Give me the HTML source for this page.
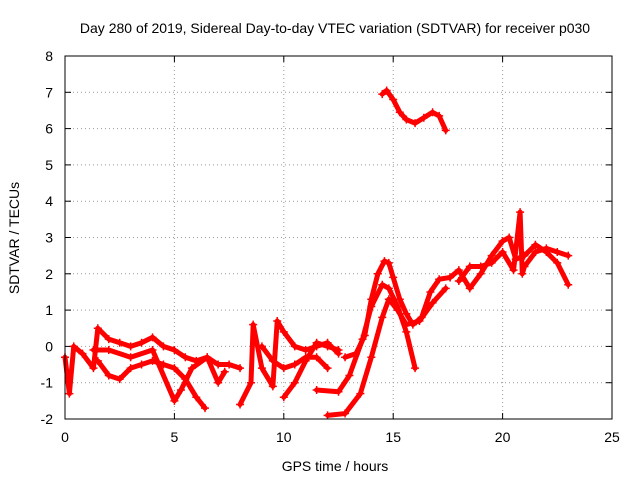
<!DOCTYPE html>
<html><head><meta charset="utf-8"><style>
body{margin:0;background:#fff;}
svg text{font-family:"Liberation Sans",sans-serif;font-size:14px;fill:#000;}
</style></head><body>
<svg id="chart" width="640" height="480" xmlns="http://www.w3.org/2000/svg">
<text x="335" y="33" text-anchor="middle">Day 280 of 2019, Sidereal Day-to-day VTEC variation (SDTVAR) for receiver p030</text>
<text x="335" y="471" text-anchor="middle">GPS time / hours</text>
<text transform="translate(19,238) rotate(-90)" text-anchor="middle">SDTVAR / TECUs</text>
<g id="grid"></g><g id="series"></g>
<rect x="65" y="56" width="547" height="363" fill="none" stroke="#000"/>
</svg>
<script>
const xTicks=[0,5,10,15,20,25];
const yTicks=[-2,-1,0,1,2,3,4,5,6,7,8];
const trackA=[[14.5,6.95],[14.7,7.05],[15.0,6.8],[15.3,6.45],[15.6,6.25],[16.0,6.15],[16.4,6.3],[16.8,6.45],[17.1,6.35],[17.4,5.95]];
const trackB=[[12.8,-0.3],[13.3,-0.2],[13.7,0.3],[14.0,1.3],[14.3,2.0],[14.6,2.35],[14.8,2.3],[15.0,1.9],[15.3,1.3],[15.6,0.9],[15.9,0.6],[16.3,0.8],[16.7,1.5],[17.1,1.85],[17.6,1.9]];
const trackC=[[11.5,-1.2],[12.5,-1.25],[13.0,-0.8],[13.6,0.2],[14.0,1.1],[14.5,1.7],[14.8,1.6],[15.2,1.1],[15.6,0.4],[16.0,-0.6]];
const trackD=[[12.0,-1.9],[12.8,-1.85],[13.5,-1.3],[14.0,-0.3],[14.5,0.8],[14.8,1.3],[15.2,1.0],[15.6,0.6],[16.2,0.7],[16.8,1.2],[17.4,1.6]];
const trackE=[[17.6,1.9],[18.0,2.1],[18.5,1.6],[19.0,2.0],[19.5,2.5],[20.0,2.9],[20.3,3.0],[20.6,2.4],[21.0,2.5],[21.5,2.8],[22.0,2.6],[22.5,2.3],[23.0,1.7]];
const trackF=[[18.0,1.8],[18.5,2.2],[19.0,2.2],[19.5,2.3],[20.0,2.6],[20.5,2.1],[20.8,3.7],[20.9,2.0],[21.0,2.2],[21.5,2.6],[22.0,2.7],[22.5,2.6],[23.0,2.5]];
const trackG=[[0,-0.3],[0.2,-1.3],[0.4,0],[0.8,-0.2],[1.3,-0.6],[1.5,0.5],[2,0.2],[2.5,0.1],[3,0.0],[3.5,0.1],[4,0.25],[4.5,0.0],[5,-0.1],[5.5,-0.3],[6,-0.4],[6.5,-0.3],[7,-0.5],[7.5,-0.5],[8,-0.6]];
const trackH=[[1.5,-0.4],[2,-0.8],[2.5,-0.9],[3,-0.6],[3.5,-0.5],[4,-0.4],[4.5,-0.5],[5,-0.6],[5.5,-0.9],[6,-1.4],[6.4,-1.7]];
const trackI=[[1.3,-0.1],[2,-0.1],[3,-0.3],[4,-0.1],[5,-1.5],[5.3,-1.2],[5.8,-0.6],[6.5,-0.3],[7,-1.0],[7.3,-0.7]];
const trackJ=[[8.0,-1.6],[8.5,-1.0],[8.6,0.6],[9.0,-0.6],[9.5,-1.1],[9.7,0.7],[10.0,0.4],[10.5,0.0],[11.0,-0.1],[11.5,0.0],[12,0.1],[12.5,-0.2]];
const trackK=[[9.0,0.0],[9.5,-0.4],[10.0,-0.6],[10.5,-0.5],[11.0,-0.3],[11.5,-0.3],[12.0,-0.6]];
const trackL=[[10.0,-1.4],[10.5,-1.0],[11.0,-0.4],[11.5,0.1],[12.0,0.0],[12.5,-0.1]];
const tracks=[trackA,trackB,trackC,trackD,trackE,trackF,trackG,trackH,trackI,trackJ,trackK,trackL];

const X0=65,X1=612,Y0=419,Y1=56;
const sx=v=>X0+(v-0)/(25-0)*(X1-X0);
const sy=v=>Y0-(v+2)/(10)*(Y0-Y1);
const NS="http://www.w3.org/2000/svg";
const grid=document.getElementById('grid'),ser=document.getElementById('series');
function mk(tag,attrs,parent){const e=document.createElementNS(NS,tag);for(const k in attrs)e.setAttribute(k,attrs[k]);parent.appendChild(e);return e;}
xTicks.forEach(t=>{
  const x=sx(t);
  if(t>0&&t<25){const g=mk('line',{x1:x,x2:x,y1:Y0,y2:Y1,stroke:'#999','stroke-dasharray':'1,3'},grid);
  
  }
  mk('line',{x1:x,x2:x,y1:Y0,y2:Y0-6,stroke:'#000'},grid);
  mk('line',{x1:x,x2:x,y1:Y1,y2:Y1+6,stroke:'#000'},grid);
  const l=mk('text',{x:x,y:Y0+23,'text-anchor':'middle'},grid);l.textContent=t;
  
  
});
yTicks.forEach(t=>{
  const y=sy(t);
  if(t>-2&&t<8){const g=mk('line',{x1:X0,x2:X1,y1:y,y2:y,stroke:'#999','stroke-dasharray':'1,3'},grid);
  
  }
  mk('line',{x1:X0,x2:X0+6,y1:y,y2:y,stroke:'#000'},grid);
  mk('line',{x1:X1,x2:X1-6,y1:y,y2:y,stroke:'#000'},grid);
  const l=mk('text',{x:X0-12,y:y+5,'text-anchor':'end'},grid);l.textContent=t;
  
  
});
tracks.forEach((tr,i)=>{
  const p=mk('polyline',{points:tr.map(d=>sx(d[0])+','+sy(d[1])).join(' '),fill:'none',stroke:'#f00','stroke-width':5,'stroke-linejoin':'round','stroke-linecap':'round'},ser);
  
  
  tr.forEach(d=>{
    const x=sx(d[0]),y=sy(d[1]);
    const m=mk('path',{d:`M${x-4},${y}H${x+4}M${x},${y-4}V${y+4}`,stroke:'#f00','stroke-width':1.5},ser);
    
    
  });
});
</script>
</body></html>
